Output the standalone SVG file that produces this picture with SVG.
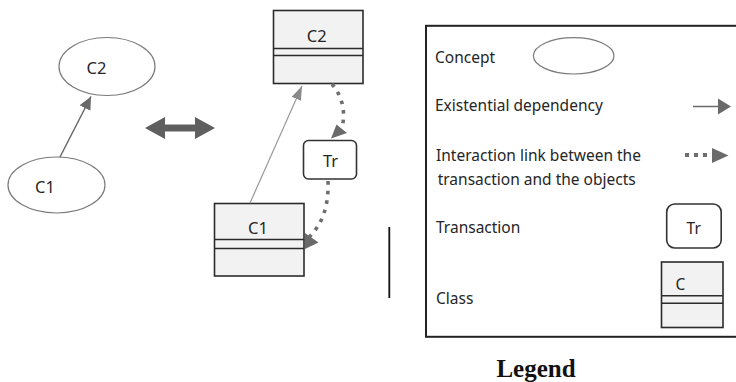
<svg xmlns="http://www.w3.org/2000/svg" width="736" height="382" viewBox="0 0 736 382">
  <defs>
    <style>
      .txt{font-family:"Noto Sans","Open Sans","Liberation Sans",sans-serif;font-size:15.5px;fill:#262626}
      .name{font-size:16.5px}
      .mid{text-anchor:middle}
      .concept{fill:#fff;stroke:#7a7a7a;stroke-width:1.2}
      .cls{fill:#f2f2f2;stroke:#2b2b2b;stroke-width:1.6}
      .div{stroke:#2b2b2b;stroke-width:1.6;fill:none}
      .tr{fill:#fff;stroke:#333;stroke-width:1.6}
      .dep{stroke:#6a6a6a;stroke-width:1.5;fill:none}
      .dep-thin{stroke:#999;stroke-width:1.2;fill:none}
      .dot{stroke:#6e6e6e;stroke-width:3.6;stroke-dasharray:3.6 6;fill:none}
      .head{fill:#6a6a6a}
    </style>
    <marker id="depHead" viewBox="0 0 13 12" refX="13" refY="6" markerWidth="13" markerHeight="12" markerUnits="userSpaceOnUse" orient="auto">
      <path d="M0,0 L13,6 L0,12 z" fill="#6a6a6a"/>
    </marker>
    <marker id="depHeadLight" viewBox="0 0 14 10" refX="14" refY="5" markerWidth="14" markerHeight="10" markerUnits="userSpaceOnUse" orient="auto">
      <path d="M0,0 L14,5 L0,10 z" fill="#8a8a8a"/>
    </marker>
  </defs>

  <!-- concept view -->
  <g id="concept-c2">
    <ellipse class="concept" cx="107" cy="66.5" rx="48" ry="29"/>
    <text class="txt name mid" x="96.5" y="74">C2</text>
  </g>
  <g id="concept-c1">
    <ellipse class="concept" cx="56.5" cy="185" rx="48.5" ry="28"/>
    <text class="txt name mid" x="45" y="193">C1</text>
  </g>

  <!-- equivalence arrow -->
  <g id="equivalence">
    <path d="M145,128 L165,117 L165,124.5 L195,124.5 L195,117 L215,128 L195,139 L195,131.5 L165,131.5 L165,139 Z" fill="#5f5f5f"/>
  </g>

  <!-- class view -->
  <g id="class-c2">
    <rect class="cls" x="273.5" y="10.5" width="89.5" height="73"/>
    <line class="div" x1="273.5" y1="48.5" x2="363" y2="48.5"/>
    <line class="div" x1="273.5" y1="55.5" x2="363" y2="55.5"/>
    <text class="txt name mid" x="316.7" y="42">C2</text>
  </g>
  <g id="class-c1">
    <rect class="cls" x="214.5" y="203.5" width="89.5" height="72.5"/>
    <line class="div" x1="214.5" y1="239.5" x2="304" y2="239.5"/>
    <line class="div" x1="214.5" y1="248.5" x2="304" y2="248.5"/>
    <text class="txt name mid" x="258" y="234">C1</text>
  </g>
  <g id="transaction-tr">
    <rect class="tr" x="303.5" y="140.5" width="53" height="38.5" rx="5"/>
    <text class="txt name mid" x="330.5" y="167">Tr</text>
  </g>

  <g id="connectors">
    <line class="dep" x1="60" y1="157" x2="91" y2="96.5" marker-end="url(#depHead)"/>
    <line class="dep-thin" x1="250" y1="203" x2="302" y2="86" marker-end="url(#depHeadLight)"/>
    <path class="dot" d="M332,84 C342,96 346,111 342,128"/>
    <polygon class="head" points="331,138.5 336.5,124.5 347,133"/>
    <path class="dot" d="M328,181 C329,204 323,224 309,237"/>
    <polygon class="head" points="305,233 318.5,242.5 305,249"/>
  </g>

  <!-- separator -->
  <line x1="389.3" y1="227" x2="389.3" y2="298" stroke="#111" stroke-width="1.8"/>

  <!-- legend -->
  <g id="legend">
    <rect x="426" y="25.8" width="320" height="311" fill="none" stroke="#222" stroke-width="2"/>
    <text class="txt" x="435" y="63">Concept</text>
    <ellipse class="concept" cx="573.7" cy="55.8" rx="40.3" ry="18.2"/>
    <text class="txt" x="435" y="111">Existential dependency</text>
    <line class="dep" x1="693" y1="106.5" x2="719" y2="106.5" stroke-width="2"/>
    <polygon class="head" points="718,98.5 731,106.5 718,114.5"/>
    <text class="txt" x="436" y="161">Interaction link between the</text>
    <text class="txt" x="437.7" y="185">transaction and the objects</text>
    <path d="M685,155 H709" stroke="#6e6e6e" stroke-width="4" stroke-dasharray="4 5" fill="none"/>
    <polygon class="head" points="712,148 728.5,155.5 712,163"/>
    <text class="txt" x="436" y="232.5">Transaction</text>
    <rect class="tr" x="666.7" y="204" width="54.5" height="44" rx="8"/>
    <text class="txt mid" x="693.7" y="234">Tr</text>
    <text class="txt" x="436" y="304">Class</text>
    <rect class="cls" x="661.5" y="262" width="61.5" height="65.5"/>
    <line class="div" x1="661.5" y1="295.7" x2="723" y2="295.7"/>
    <line class="div" x1="661.5" y1="303.3" x2="723" y2="303.3"/>
    <text class="txt mid" x="680.3" y="290">C</text>
    <text x="536" y="376.5" text-anchor="middle" font-family="'Liberation Serif','Times New Roman',serif" font-weight="bold" font-size="25" fill="#111">Legend</text>
  </g>
</svg>
